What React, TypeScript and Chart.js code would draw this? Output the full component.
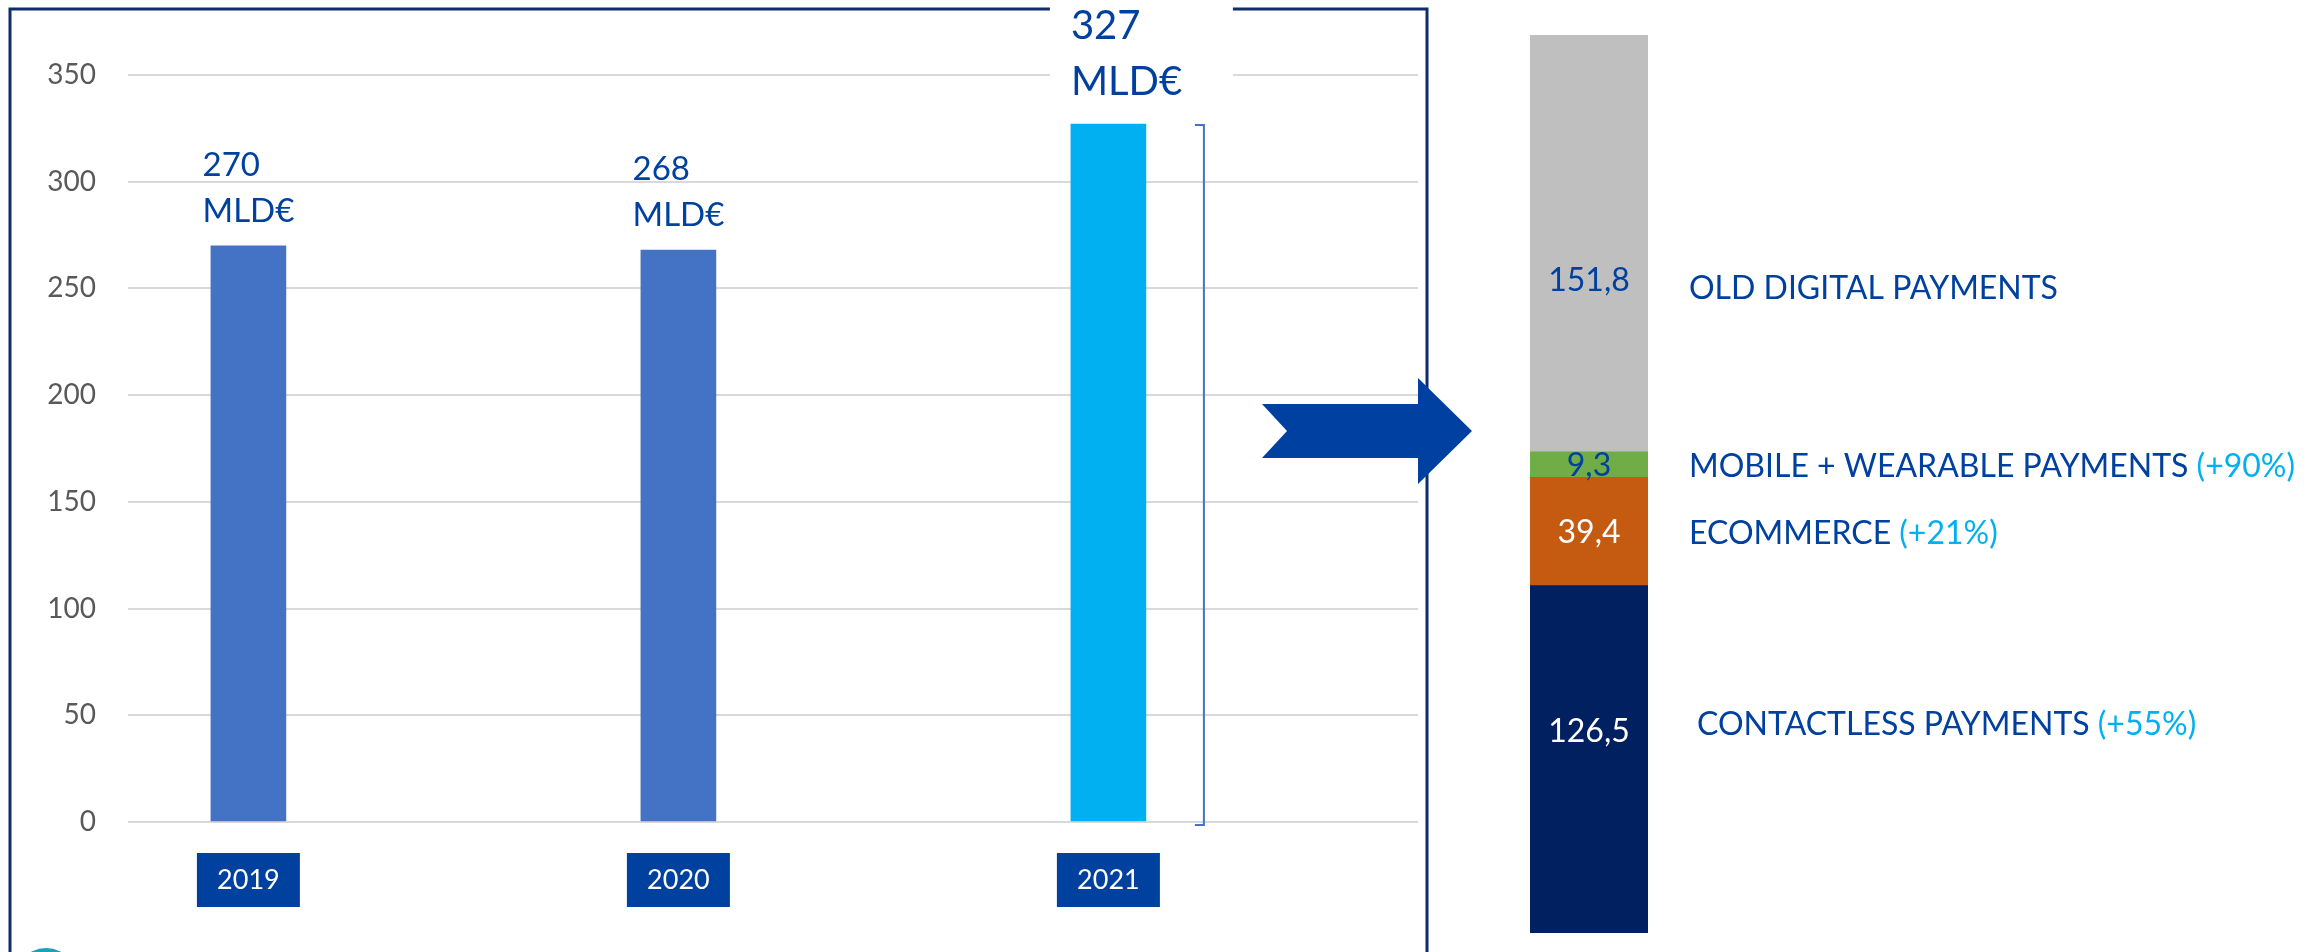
import React, { useEffect, useRef } from "react";
import { Chart, registerables } from "chart.js";

Chart.register(...registerables);

// ---- Data ----
const years = [2019, 2020, 2021];
const totals = [270, 268, 327];
const totalLabels = ["270", "268", "327"];
const unitLabel = "MLD€";
const barColors = ["#4472C4", "#4472C4", "#00B0F0"];
const yTicks = [0, 50, 100, 150, 200, 250, 300, 350];

const segNames = ["CONTACTLESS PAYMENTS", "ECOMMERCE", "MOBILE + WEARABLE PAYMENTS", "OLD DIGITAL PAYMENTS"];
const segGrowth = ["(+55%)", "(+21%)", "(+90%)", ""];
const segValues = [126.5, 39.4, 9.3, 151.8];
const segValueLabels = ["126,5", "39,4", "9,3", "151,8"];
const segColors = ["#002060", "#C55A11", "#70AD47", "#BFBFBF"];
const segLabelColors = ["#FFFFFF", "#FFFFFF", "#0041A0", "#0041A0"];

const FONT = "Lato, 'Open Sans', sans-serif";
const DARK_BLUE = "#0041A0";
const LIGHT_BLUE = "#00B0F0";

const leftDecor = {
  id: "leftDecor",
  beforeDatasetsDraw(chart: any) {
    const ctx = chart.ctx;
    ctx.save();
    ctx.strokeStyle = "#0F2D6B";
    ctx.lineWidth = 3;
    ctx.strokeRect(10, 9, 1417, 1100);
    ctx.restore();
  },
  afterDatasetsDraw(chart: any) {
    const ctx = chart.ctx;
    const meta = chart.getDatasetMeta(0);
    const area = chart.chartArea;
    ctx.save();
    meta.data.forEach((bar: any, i: number) => {
      const big = i === 2;
      const size = big ? 40 : 33;
      const top = bar.y;
      const left = bar.x - bar.width / 2;
      const right = bar.x + bar.width / 2;
      if (big) {
        // bracket
        ctx.strokeStyle = "#4472C4";
        ctx.lineWidth = 2;
        ctx.beginPath();
        ctx.moveTo(right + 49, top + 1);
        ctx.lineTo(right + 58, top + 1);
        ctx.lineTo(right + 58, area.bottom + 3);
        ctx.lineTo(right + 49, area.bottom + 3);
        ctx.stroke();
        // white box behind label
        ctx.fillStyle = "#FFFFFF";
        ctx.fillRect(left - 21, 0, 183, top - 30);
      }
      ctx.font = `${size}px ${FONT}`;
      ctx.fillStyle = DARK_BLUE;
      ctx.textAlign = "left";
      ctx.textBaseline = "alphabetic";
      const w = ctx.measureText(unitLabel).width;
      const tx = big ? left : bar.x - w / 2;
      ctx.fillText(totalLabels[i], tx, top - (big ? 85 : 70));
      ctx.fillText(unitLabel, tx, top - (big ? 29 : 24));

      // year box
      ctx.fillStyle = "#0041A0";
      ctx.fillRect(bar.x - 51.5, area.bottom + 31, 103, 54);
      ctx.fillStyle = "#FFFFFF";
      ctx.font = `27px ${FONT}`;
      ctx.textAlign = "center";
      ctx.textBaseline = "middle";
      ctx.fillText(String(years[i]), bar.x, area.bottom + 58);
    });

    // arrow
    ctx.fillStyle = "#0040A0";
    ctx.beginPath();
    ctx.moveTo(1262, 404);
    ctx.lineTo(1418, 404);
    ctx.lineTo(1418, 378);
    ctx.lineTo(1472, 431);
    ctx.lineTo(1418, 484);
    ctx.lineTo(1418, 458);
    ctx.lineTo(1262, 458);
    ctx.lineTo(1287, 431);
    ctx.closePath();
    ctx.fill();

    // logo fragment
    ctx.fillStyle = "#1AA3B6";
    ctx.beginPath();
    ctx.ellipse(46, 992, 36, 44, 0, Math.PI, 2 * Math.PI);
    ctx.fill();
    ctx.restore();
  },
};

const rightDecor = {
  id: "rightDecor",
  afterDatasetsDraw(chart: any) {
    const ctx = chart.ctx;
    const area = chart.chartArea;
    const valueShift = [-29, 0, 0, 36];
    const textShift = [-36, 1, 1, 44];
    const textX = [8, 0, 0, 0];
    ctx.save();
    ctx.textBaseline = "alphabetic";
    segValues.forEach((_, i) => {
      const el = chart.getDatasetMeta(i).data[0];
      const cy = (el.y + el.base) / 2;
      const vs = 32;
      ctx.font = `${vs}px ${FONT}`;
      ctx.textAlign = "center";
      ctx.fillStyle = segLabelColors[i];
      ctx.fillText(segValueLabels[i], el.x, cy + valueShift[i] + vs * 0.36);

      const ts = 32;
      ctx.font = `${ts}px ${FONT}`;
      ctx.textAlign = "left";
      const x0 = area.right + 41 + textX[i];
      const y0 = cy + textShift[i] + ts * 0.36;
      ctx.fillStyle = DARK_BLUE;
      ctx.fillText(segNames[i], x0, y0);
      if (segGrowth[i]) {
        const w = ctx.measureText(segNames[i] + " ").width;
        ctx.fillStyle = LIGHT_BLUE;
        ctx.fillText(segGrowth[i], x0 + w, y0);
      }
    });
    ctx.restore();
  },
};

export default function App() {
  const leftRef = useRef<HTMLCanvasElement | null>(null);
  const rightRef = useRef<HTMLCanvasElement | null>(null);

  useEffect(() => {
    document.body.style.margin = "0";
    const left = new Chart(leftRef.current as HTMLCanvasElement, {
      type: "bar",
      data: {
        datasets: [
          {
            data: years.map((y, i) => ({ x: y, y: totals[i] })),
            backgroundColor: barColors,
            barThickness: 75,
          },
        ],
      },
      options: {
        animation: false,
        responsive: false,
        layout: { padding: { top: 75, bottom: 130, left: 0, right: 82 } },
        plugins: { legend: { display: false }, tooltip: { enabled: false } },
        scales: {
          x: { type: "linear", offset: false, min: 2018.72, max: 2021.72, display: false },
          y: {
            min: 0,
            max: 350,
            afterBuildTicks: (s: any) => {
              s.ticks = yTicks.map((v) => ({ value: v }));
            },
            afterFit: (s: any) => {
              s.width = 128;
            },
            ticks: { color: "#595959", font: { family: FONT, size: 28 }, padding: 32 },
            grid: { color: "#D9D9D9", lineWidth: 2, drawTicks: false },
            border: { display: false },
          },
        },
      } as any,
      plugins: [leftDecor],
    });

    const right = new Chart(rightRef.current as HTMLCanvasElement, {
      type: "bar",
      data: {
        labels: ["2021"],
        datasets: segValues.map((v, i) => ({
          label: segNames[i],
          data: [v],
          backgroundColor: segColors[i],
          barPercentage: 1,
          categoryPercentage: 1,
          stack: "s",
        })),
      },
      options: {
        animation: false,
        responsive: false,
        layout: { padding: { top: 35, bottom: 19, left: 30, right: 672 } },
        plugins: { legend: { display: false }, tooltip: { enabled: false } },
        scales: {
          x: { stacked: true, display: false },
          y: { stacked: true, display: false, min: 0, max: segValues.reduce((a, b) => a + b, 0) },
        },
      } as any,
      plugins: [rightDecor],
    });

    return () => {
      left.destroy();
      right.destroy();
    };
  }, []);

  return (
    <div style={{ position: "fixed", left: 0, top: 0, width: 2320, height: 952, background: "#FFFFFF", overflow: "hidden" }}>
      <canvas ref={leftRef} width={1500} height={952} style={{ position: "absolute", left: 0, top: 0, width: 1500, height: 952 }} />
      <canvas ref={rightRef} width={820} height={952} style={{ position: "absolute", left: 1500, top: 0, width: 820, height: 952 }} />
    </div>
  );
}
